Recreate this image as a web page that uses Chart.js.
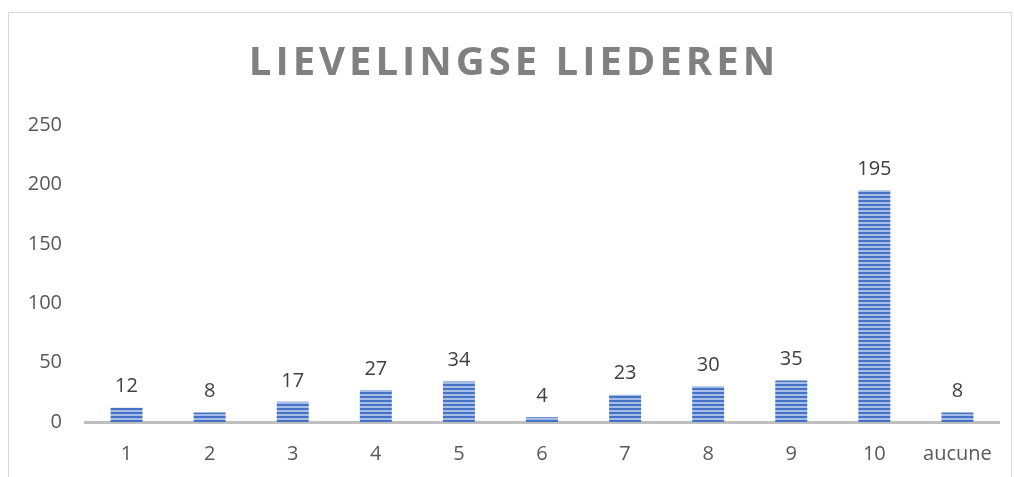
<!DOCTYPE html>
<html>
<head>
<meta charset="utf-8">
<script src="https://cdn.jsdelivr.net/npm/chart.js@4/dist/chart.umd.min.js"></script>
<style>
  html, body { margin: 0; padding: 0; background: #fff; overflow: hidden; }
  #wrap { position: relative; width: 1014px; height: 477px; }
  #frame { position: absolute; left: 8px; top: 12px; width: 1004px; height: 500px; border: 1px solid #d9d9d9; box-sizing: border-box; }
  canvas { position: absolute; left: 0; top: 0; }
</style>
</head>
<body>
<div id="wrap">
  <div id="frame"></div>
  <canvas id="songChart" width="1014" height="477"></canvas>
</div>
<script>
const title = 'LIEVELINGSE LIEDEREN';
const categories = ['1', '2', '3', '4', '5', '6', '7', '8', '9', '10', 'aucune'];
const votes = [12, 8, 17, 27, 34, 4, 23, 30, 35, 195, 8];
const yTicks = [0, 50, 100, 150, 200, 250];

// horizontal stripe fill for the bars
function stripes() {
    const c = document.createElement('canvas');
    c.width = 4;
    c.height = 4;
    const g = c.getContext('2d');
    g.fillStyle = '#a7bce6';
    g.fillRect(0, 0, 4, 4);
    g.fillStyle = '#4472c4';
    g.fillRect(0, 0, 4, 2);
    return g.createPattern(c, 'repeat');
}

const titlePlugin = {
    id: 'spacedTitle',
    afterDraw(chart) {
        const ctx = chart.ctx;
        ctx.save();
        ctx.font = 'bold 40px "Open Sans"';
        ctx.fillStyle = '#808080';
        ctx.letterSpacing = '4px';
        ctx.textAlign = 'center';
        ctx.textBaseline = 'middle';
        ctx.fillText(title, 514, 64);
        ctx.restore();
    }
};

const valueLabels = {
    id: 'valueLabels',
    afterDatasetsDraw(chart) {
        const ctx = chart.ctx;
        const meta = chart.getDatasetMeta(0);
        ctx.save();
        ctx.font = '20px "Open Sans"';
        ctx.fillStyle = '#404040';
        ctx.textAlign = 'center';
        ctx.textBaseline = 'bottom';
        meta.data.forEach((bar, i) => {
            ctx.fillText(String(votes[i]), bar.x, bar.y - 11);
        });
        ctx.restore();
    }
};

const ctx = document.getElementById('songChart').getContext('2d');
new Chart(ctx, {
    type: 'bar',
    data: {
        labels: categories,
        datasets: [{
            data: votes,
            backgroundColor: stripes(),
            borderWidth: 0,
            categoryPercentage: 1,
            barPercentage: 0.385
        }]
    },
    options: {
        responsive: false,
        animation: false,
        layout: { padding: { top: 125, left: 0, right: 15, bottom: 0 } },
        plugins: {
            legend: { display: false },
            tooltip: { enabled: false },
            title: { display: false }
        },
        scales: {
            x: {
                grid: { display: false },
                border: { display: true, color: '#bfbfbf', width: 3 },
                ticks: { color: '#595959', font: { family: 'Open Sans', size: 20 }, padding: 12 },
                afterFit(scale) { scale.height = 55; }
            },
            y: {
                min: 0,
                max: 250,
                afterBuildTicks(scale) { scale.ticks = yTicks.map(v => ({ value: v })); },
                grid: { display: false },
                border: { display: false },
                ticks: { color: '#595959', font: { family: 'Open Sans', size: 20 }, padding: 15 },
                afterFit(scale) { scale.width = 85; }
            }
        }
    },
    plugins: [titlePlugin, valueLabels]
});
</script>
</body>
</html>
